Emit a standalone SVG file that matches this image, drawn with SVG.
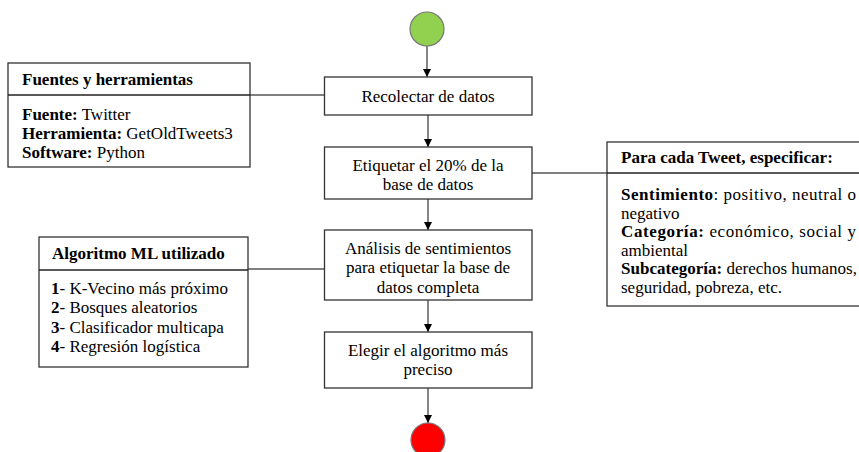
<svg xmlns="http://www.w3.org/2000/svg" width="859" height="452" viewBox="0 0 859 452">
<defs>
<marker id="arr" viewBox="0 0 10 10" refX="10" refY="5" markerWidth="8" markerHeight="8" markerUnits="userSpaceOnUse" orient="auto">
<path d="M0,0 L10,5 L0,10 Z" fill="#000"/>
</marker>
<style>
.box{fill:#fff;stroke:#333;stroke-width:1.3}
.div{stroke:#222;stroke-width:1.6}
.ln{stroke:#555;stroke-width:1.3;fill:none}
.ar{stroke:#444;stroke-width:1.3;fill:none;marker-end:url(#arr)}
text{font-family:'Liberation Serif','DejaVu Serif',serif;font-size:17px;fill:#000}
.c{text-anchor:middle}
.b{font-weight:bold}
</style>
</defs>
<rect width="859" height="452" fill="#fff"/>

<g id="connectors">
<line class="ar" x1="427" y1="46" x2="427" y2="77"/>
<line class="ar" x1="428" y1="115" x2="428" y2="147"/>
<line class="ar" x1="428" y1="199" x2="428" y2="230"/>
<line class="ar" x1="428" y1="300" x2="428" y2="332"/>
<line class="ar" x1="428" y1="388" x2="428" y2="423"/>
<line class="ln" x1="250" y1="95" x2="324" y2="95"/>
<line class="ln" x1="248" y1="269" x2="324" y2="269"/>
<line class="ln" x1="532" y1="173" x2="607" y2="173"/>
</g>

<g id="start">
<circle cx="427" cy="29" r="17" fill="#92D050" stroke="#777" stroke-width="1.2"/>
</g>

<g id="recolectar">
<rect class="box" x="324.5" y="77" width="207.5" height="38"/>
<text class="c" x="428" y="101.5">Recolectar de datos</text>
</g>

<g id="etiquetar">
<rect class="box" x="324.5" y="147" width="207.5" height="52"/>
<text class="c" x="428" y="171">Etiquetar el 20% de la</text>
<text class="c" x="428" y="190">base de datos</text>
</g>

<g id="analisis">
<rect class="box" x="324.5" y="230" width="207.5" height="70"/>
<text class="c" x="428" y="253.5">Análisis de sentimientos</text>
<text class="c" x="428" y="273">para etiquetar la base de</text>
<text class="c" x="428" y="292.5">datos completa</text>
</g>

<g id="elegir">
<rect class="box" x="324.5" y="332" width="207.5" height="56"/>
<text class="c" x="428" y="356">Elegir el algoritmo más</text>
<text class="c" x="428" y="375">preciso</text>
</g>

<g id="end">
<circle cx="428" cy="440" r="17" fill="#FF0000" stroke="#777" stroke-width="1.2"/>
</g>

<g id="fuentes">
<rect class="box" x="8" y="63" width="242" height="104"/>
<line class="div" x1="8" y1="95" x2="250" y2="95"/>
<text class="b" x="22" y="84.5">Fuentes y herramientas</text>
<text x="22" y="119.5"><tspan class="b">Fuente:</tspan> Twitter</text>
<text x="22" y="138.5"><tspan class="b">Herramienta:</tspan> GetOldTweets3</text>
<text x="22" y="157.5"><tspan class="b">Software:</tspan> Python</text>
</g>

<g id="algoritmo">
<rect class="box" x="39" y="237" width="209" height="130"/>
<line class="div" x1="39" y1="270" x2="248" y2="270"/>
<text class="b" x="52" y="259">Algoritmo ML utilizado</text>
<text x="51" y="293.5"><tspan class="b">1</tspan>- K-Vecino más próximo</text>
<text x="51" y="313"><tspan class="b">2</tspan>- Bosques aleatorios</text>
<text x="51" y="332.5"><tspan class="b">3</tspan>- Clasificador multicapa</text>
<text x="51" y="352"><tspan class="b">4</tspan>- Regresión logística</text>
</g>

<g id="especificar">
<rect class="box" x="607" y="142" width="260" height="164"/>
<line class="div" x1="607" y1="173" x2="867" y2="173"/>
<text class="b" x="621" y="163">Para cada Tweet, especificar:</text>
<text x="621" y="200" textLength="235" lengthAdjust="spacing"><tspan class="b">Sentimiento</tspan>: positivo, neutral o</text>
<text x="621" y="218.5">negativo</text>
<text x="621" y="237" textLength="235" lengthAdjust="spacing"><tspan class="b">Categoría:</tspan> económico, social y</text>
<text x="621" y="255.5">ambiental</text>
<text x="621" y="274" textLength="236" lengthAdjust="spacing"><tspan class="b">Subcategoría:</tspan> derechos humanos,</text>
<text x="621" y="292.5">seguridad, pobreza, etc.</text>
</g>
</svg>
